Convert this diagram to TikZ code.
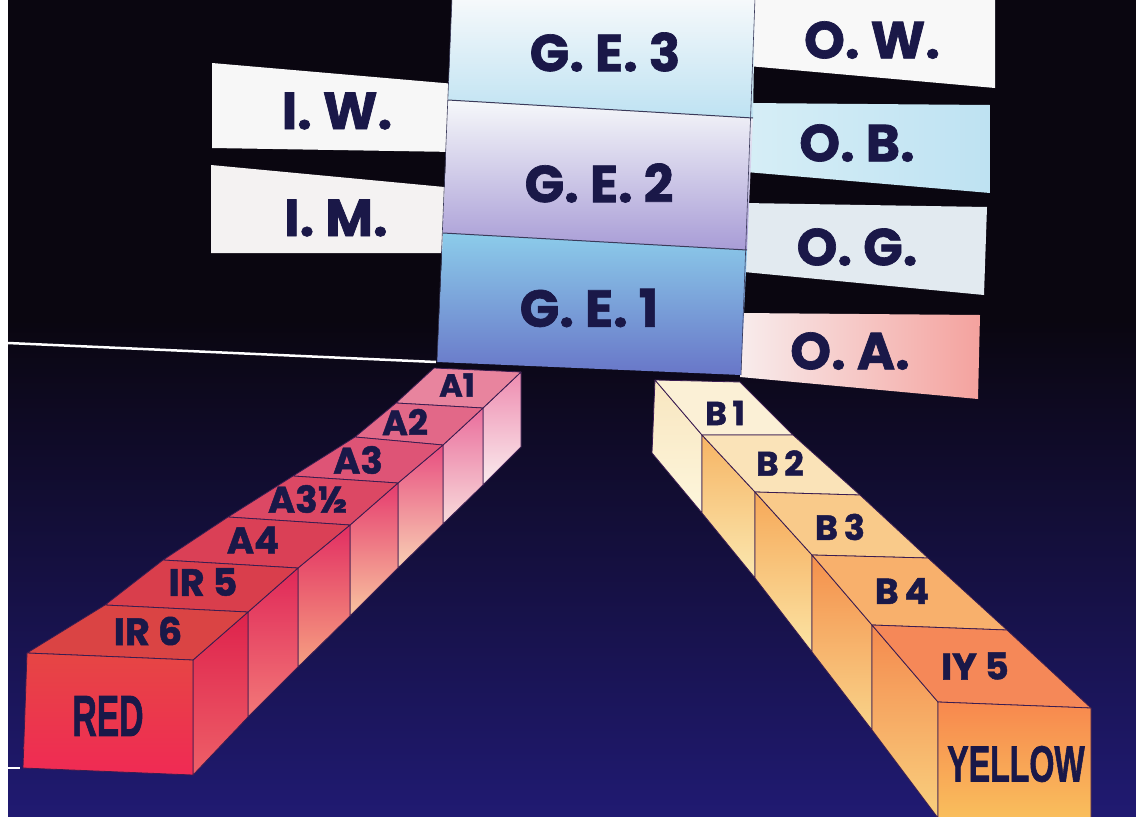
\documentclass[tikz,border=0pt]{standalone}
\usepackage{fontspec}
\newfontfamily\pop{Poppins}[FakeBold=1.3]
\newfontfamily\lib{Liberation Sans}[FakeBold=1.6]
\definecolor{labc}{HTML}{1A1848}
\definecolor{edgec}{HTML}{3A1C50}
\definecolor{bgtop}{HTML}{0A0610}
\definecolor{bgbot}{HTML}{201A72}
\definecolor{divc}{HTML}{3A3A5A}
\tikzset{
  lab/.style={text=labc, inner sep=0pt},
  boxlab/.style={lab, font=\pop\bfseries\fontsize{52}{56}\selectfont},
  stacklab/.style={lab, font=\pop\bfseries\fontsize{#1}{#1}\selectfont},
  facelab/.style={lab, font=\lib\bfseries\fontsize{#1}{#1}\selectfont},
  edgeline/.style={draw=edgec, line width=0.8pt, line join=round},
  divider/.style={draw=divc, line width=1pt},
}
\begin{document}
\begin{tikzpicture}[x=1pt,y=-1pt]
\useasboundingbox (0,0) rectangle (1136,817);
\clip (0,0) rectangle (1136,817);
% background
\fill[bgtop] (0,0) rectangle (1136,817);
\shade[top color=bgtop, bottom color=bgbot] (0,320) rectangle (1136,817);
\fill[white] (0,0) rectangle (8,817);
\draw[white, line width=2.5pt] (8,343) -- (436,362);
\draw[white, line width=2.5pt] (8,768) -- (20,768);

% left boxes
\fill[fill={rgb,255:red,247;green,247;blue,247}] (212,63) -- (455,84) -- (455,152) -- (212,148) -- cycle;
\fill[fill={rgb,255:red,244;green,242;blue,242}] (211,165) -- (455,188) -- (455,253) -- (211,253) -- cycle;

% right boxes
\fill[fill={rgb,255:red,248;green,248;blue,248}] (748,-2) -- (995,-2) -- (995,88) -- (748,66) -- cycle;
\shade[left color={rgb,255:red,214;green,238;blue,246}, right color={rgb,255:red,190;green,226;blue,242}] (746,103) -- (990,105) -- (990,193) -- (746,172) -- cycle;
\fill[fill={rgb,255:red,226;green,234;blue,240}] (744,203) -- (987,207) -- (984,295) -- (744,272) -- cycle;
\shade[left color={rgb,255:red,248;green,236;blue,236}, right color={rgb,255:red,244;green,162;blue,158}] (740,313) -- (980,315) -- (978,399) -- (740,377) -- cycle;

% central column
\shade[top color={rgb,255:red,246;green,249;blue,251}, bottom color={rgb,255:red,190;green,226;blue,242}] (452,-2) -- (755,-2) -- (753,118) -- (448,100) -- cycle;
\shade[top color={rgb,255:red,246;green,248;blue,250}, middle color={rgb,255:red,214;green,234;blue,246}, bottom color={rgb,255:red,168;green,156;blue,214}] (448,100) -- (753,118) -- (747,250) -- (443,233) -- cycle;
\shade[top color={rgb,255:red,140;green,204;blue,234}, middle color={rgb,255:red,86;green,176;blue,226}, bottom color={rgb,255:red,104;green,118;blue,200}] (443,233) -- (747,250) -- (741,375) -- (437,362) -- cycle;
\draw[divider] (448,100) -- (753,118);
\draw[divider] (443,233) -- (747,250);
\draw[divider, line width=0.6pt] (452,-2) -- (437,362);
\draw[divider, line width=0.6pt] (755,-2) -- (741,375);

\node[boxlab] (ge3) at (605,52) {G. E. 3};
\node[boxlab] (ge2) at (599,183) {G. E. 2};
\node[boxlab] (ge1) at (589,308) {G. E. 1};
\node[boxlab] (iw) at (337,111) {I. W.};
\node[boxlab] (im) at (336,218) {I. M.};
\node[boxlab] (ow) at (872,40) {O. W.};
\node[boxlab] (ob) at (857,143) {O. B.};
\node[boxlab] (og) at (857,247) {O. G.};
\node[boxlab] (oa) at (850,351) {O. A.};

% ===== red stack =====
% side faces (back to front)
\shade[edgeline, top color={rgb,255:red,238;green,140;blue,176}, bottom color={rgb,255:red,250;green,236;blue,238}] (483,408) -- (521,372) -- (521,447) -- (483,485) -- cycle;
\shade[edgeline, top color={rgb,255:red,234;green,110;blue,156}, bottom color={rgb,255:red,248;green,220;blue,220}] (443,445) -- (483,408) -- (483,485) -- (443,524) -- cycle;
\shade[edgeline, top color={rgb,255:red,232;green,78;blue,128}, bottom color={rgb,255:red,248;green,208;blue,180}] (398,483) -- (443,445) -- (443,524) -- (398,568) -- cycle;
\shade[edgeline, top color={rgb,255:red,230;green,60;blue,110}, bottom color={rgb,255:red,248;green,196;blue,160}] (350,525) -- (398,483) -- (398,568) -- (350,616) -- cycle;
\shade[edgeline, top color={rgb,255:red,226;green,46;blue,98}, bottom color={rgb,255:red,246;green,160;blue,130}] (298,568) -- (350,525) -- (350,616) -- (298,667) -- cycle;
\shade[edgeline, top color={rgb,255:red,224;green,40;blue,88}, bottom color={rgb,255:red,242;green,120;blue,120}] (248,612) -- (298,568) -- (298,667) -- (248,717) -- cycle;
\shade[edgeline, top color={rgb,255:red,222;green,34;blue,76}, bottom color={rgb,255:red,238;green,96;blue,104}] (193,660) -- (248,612) -- (248,717) -- (193,775) -- cycle;
% top faces (back to front)
\fill[edgeline, fill={rgb,255:red,232;green,132;blue,158}] (396,403) -- (483,408) -- (521,372) -- (434,368) -- cycle;
\fill[edgeline, fill={rgb,255:red,226;green,104;blue,136}] (355,437) -- (443,445) -- (483,408) -- (396,403) -- cycle;
\fill[edgeline, fill={rgb,255:red,222;green,84;blue,118}] (293,476) -- (398,483) -- (443,445) -- (355,437) -- cycle;
\fill[edgeline, fill={rgb,255:red,220;green,72;blue,100}] (228,517) -- (350,525) -- (398,483) -- (293,476) -- cycle;
\fill[edgeline, fill={rgb,255:red,218;green,64;blue,86}] (163,560) -- (298,568) -- (350,525) -- (228,517) -- cycle;
\fill[edgeline, fill={rgb,255:red,217;green,62;blue,76}] (105,605) -- (248,612) -- (298,568) -- (163,560) -- cycle;
\fill[edgeline, fill={rgb,255:red,218;green,68;blue,68}] (27,653) -- (193,660) -- (248,612) -- (105,605) -- cycle;
% front face
\shade[edgeline, top color={rgb,255:red,230;green,70;blue,68}, bottom color={rgb,255:red,240;green,42;blue,84}] (27,653) -- (193,660) -- (193,775) -- (23,768) -- cycle;

\node[stacklab=32] (a1) at (457,385) {A1};
\node[stacklab=35] (a2) at (405,422) {A2};
\node[stacklab=37] (a3) at (358,460) {A3};
\node[stacklab=37] (a3h) at (308,499) {A3½};
\node[stacklab=37] (a4) at (253,540) {A4};
\node[stacklab=38] (ir5) at (203,582) {IR 5};
\node[stacklab=38] (ir6) at (148,631) {IR 6};
\node[facelab=58] (red) at (108,716) {\scalebox{0.58}[1]{RED}};

% ===== yellow stack =====
\shade[edgeline, top color={rgb,255:red,248;green,230;blue,192}, bottom color={rgb,255:red,253;green,246;blue,220}] (655,380) -- (702,435) -- (702,513) -- (652,453) -- cycle;
\shade[edgeline, top color={rgb,255:red,246;green,180;blue,100}, bottom color={rgb,255:red,251;green,232;blue,176}] (702,435) -- (755,492) -- (755,578) -- (702,513) -- cycle;
\shade[edgeline, top color={rgb,255:red,246;green,168;blue,88}, bottom color={rgb,255:red,251;green,228;blue,164}] (755,492) -- (812,555) -- (812,652) -- (755,578) -- cycle;
\shade[edgeline, top color={rgb,255:red,244;green,144;blue,76}, bottom color={rgb,255:red,249;green,212;blue,138}] (812,555) -- (872,625) -- (872,730) -- (812,652) -- cycle;
\shade[edgeline, top color={rgb,255:red,244;green,138;blue,78}, bottom color={rgb,255:red,249;green,208;blue,126}] (872,625) -- (938,702) -- (938,818) -- (872,730) -- cycle;
% top faces
\fill[edgeline, fill={rgb,255:red,251;green,240;blue,214}] (655,380) -- (740,382) -- (793,435) -- (702,435) -- cycle;
\fill[edgeline, fill={rgb,255:red,250;green,227;blue,184}] (702,435) -- (793,435) -- (860,495) -- (755,492) -- cycle;
\fill[edgeline, fill={rgb,255:red,249;green,202;blue,138}] (755,492) -- (860,495) -- (928,558) -- (812,555) -- cycle;
\fill[edgeline, fill={rgb,255:red,248;green,176;blue,108}] (812,555) -- (928,558) -- (1007,630) -- (872,625) -- cycle;
\fill[edgeline, fill={rgb,255:red,245;green,136;blue,88}] (872,625) -- (1007,630) -- (1091,708) -- (938,702) -- cycle;
% front face
\shade[edgeline, top color={rgb,255:red,248;green,136;blue,78}, bottom color={rgb,255:red,249;green,196;blue,94}] (938,702) -- (1091,708) -- (1091,830) -- (938,822) -- cycle;

\node[stacklab=33] (b1) at (725,413) {B\,1};
\node[stacklab=34] (b2) at (780,463) {B\,2};
\node[stacklab=35] (b3) at (840,527) {B\,3};
\node[stacklab=36] (b4) at (902,591) {B\,4};
\node[stacklab=37] (iy5) at (975,666) {IY 5};
\node[facelab=51] (yellow) at (1016,764) {\scalebox{0.63}[1]{YELLOW}};
\end{tikzpicture}
\end{document}
